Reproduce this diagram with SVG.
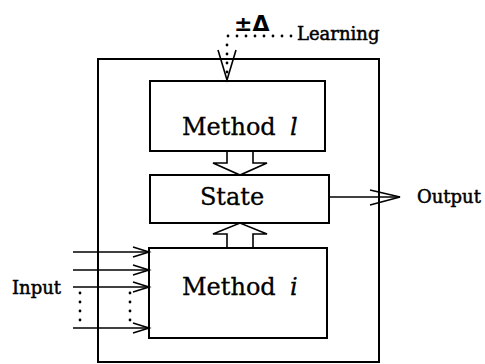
<svg xmlns="http://www.w3.org/2000/svg" width="485" height="364" viewBox="0 0 485 364">
<style>
.box{fill:none;stroke:#000;stroke-width:2}
.ln{fill:none;stroke:#000;stroke-width:1.6}
.dot{fill:none;stroke:#000;stroke-width:2.8;stroke-linecap:round;stroke-dasharray:0 9}
.big{font-family:"DejaVu Serif","Liberation Serif",serif;font-size:24px;fill:#000;stroke:#000;stroke-width:0.3}
.sm{font-family:"DejaVu Serif","Liberation Serif",serif;font-size:18px;fill:#000;stroke:#000;stroke-width:0.5}
.it{font-style:italic}
</style>
<rect width="485" height="364" fill="#fff"/>
<g id="outer"><rect class="box" x="98" y="59" width="281" height="303"/></g>
<g id="method-l">
<rect class="box" x="150" y="81" width="175" height="70"/>
<text class="big" x="182" y="135">Method<tspan class="it" x="290">l</tspan></text>
</g>
<g id="state">
<rect class="box" x="150" y="175" width="179" height="48"/>
<text class="big" x="232" y="205" text-anchor="middle">State</text>
</g>
<g id="method-i">
<rect class="box" x="149" y="248" width="178" height="90"/>
<text class="big" x="182" y="295">Method<tspan class="it" x="290">i</tspan></text>
</g>
<g id="labels">
<text class="sm" x="417" y="203">Output</text>
<text class="sm" x="12" y="294">Input</text>
<text class="sm" x="297" y="40">Learning</text>
<text x="234" y="30.5" font-family="DejaVu Sans,sans-serif" font-size="22" font-weight="bold">±Δ</text>
</g>
<g id="connectors">
<polygon class="ln" points="227,151 253,151 253,163 267,163 240,175 213,163 227,163" fill="#fff"/>
<polygon class="ln" points="227,248 227,234 213,234 240,223 267,234 253,234 253,248" fill="#fff"/>
<line class="ln" x1="329" y1="197" x2="400" y2="197"/>
<polyline class="ln" points="370,190 400,197 370,205"/>
<line class="ln" x1="73" y1="252" x2="149" y2="252"/>
<polyline class="ln" points="133,247 149,252 133,257"/>
<line class="ln" x1="73" y1="270" x2="149" y2="270"/>
<polyline class="ln" points="133,265 149,270 133,275"/>
<line class="ln" x1="73" y1="287" x2="149" y2="287"/>
<polyline class="ln" points="133,282 149,287 133,292"/>
<line class="ln" x1="73" y1="328" x2="149" y2="328"/>
<polyline class="ln" points="133,323 149,328 133,333"/>
<line class="dot" x1="80" y1="293" x2="80" y2="325"/>
<line class="dot" x1="130" y1="293" x2="130" y2="325"/>
<line class="dot" x1="228" y1="36" x2="292" y2="36"/>
<line class="dot" x1="227" y1="45" x2="227" y2="75"/>
<polyline class="ln" points="218,50 227,80 236,50"/>
</g>
</svg>
